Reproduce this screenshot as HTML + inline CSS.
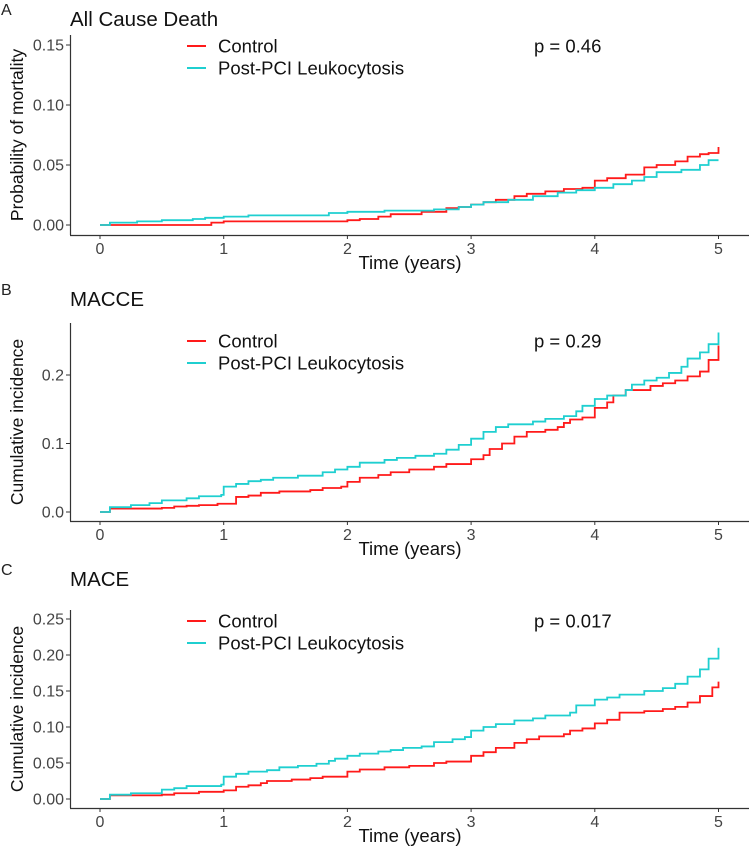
<!DOCTYPE html>
<html><head><meta charset="utf-8"><style>
html,body{margin:0;padding:0;background:#fff;}
svg{display:block;font-family:"Liberation Sans",sans-serif;}
</style></head><body>
<svg id="chart" width="750" height="847" xmlns="http://www.w3.org/2000/svg"></svg>
<script>
const xTicks=[0,1,2,3,4,5];
const panelLabels=["A","B","C"];
const panelTitles=["All Cause Death","MACCE","MACE"];
const yTitles=["Probability of mortality","Cumulative incidence","Cumulative incidence"];
const pValues=["p = 0.46","p = 0.29","p = 0.017"];
const seriesNames=["Control","Post-PCI Leukocytosis"];
const yTicksA=[0,0.05,0.10,0.15];
const yTickLabelsA=["0.00","0.05","0.10","0.15"];
const yTicksB=[0,0.1,0.2];
const yTickLabelsB=["0.0","0.1","0.2"];
const yTicksC=[0,0.05,0.10,0.15,0.20,0.25];
const yTickLabelsC=["0.00","0.05","0.10","0.15","0.20","0.25"];
const ctrlA_t=[0.08,0.9,1.0,2.0,2.1,2.25,2.35,2.6,2.8,2.9,3.0,3.1,3.2,3.35,3.45,3.6,3.75,3.9,4.0,4.1,4.25,4.4,4.5,4.65,4.75,4.85,4.92,5.0];
const ctrlA_v=[0,0.002,0.003,0.004,0.005,0.007,0.009,0.011,0.014,0.015,0.017,0.019,0.021,0.024,0.026,0.028,0.030,0.031,0.037,0.039,0.042,0.048,0.050,0.053,0.057,0.059,0.060,0.065];
const leukA_t=[0,0.08,0.3,0.5,0.75,0.85,1.0,1.2,1.85,2.0,2.3,2.7,2.9,3.0,3.1,3.3,3.5,3.7,3.85,4.0,4.15,4.3,4.4,4.5,4.7,4.85,4.92,5.0];
const leukA_v=[0,0.002,0.003,0.004,0.005,0.006,0.007,0.008,0.010,0.011,0.012,0.013,0.015,0.017,0.019,0.021,0.024,0.027,0.029,0.031,0.034,0.037,0.040,0.044,0.046,0.050,0.054,0.054];
const ctrlB_t=[0.08,0.5,0.6,0.7,0.8,0.95,1.1,1.2,1.3,1.45,1.7,1.8,1.95,2.0,2.1,2.25,2.35,2.5,2.7,2.8,3.0,3.1,3.15,3.25,3.35,3.45,3.6,3.7,3.75,3.8,3.9,4.0,4.1,4.15,4.25,4.45,4.55,4.65,4.75,4.85,4.92,5.0];
const ctrlB_v=[0.005,0.006,0.008,0.009,0.010,0.012,0.022,0.024,0.028,0.030,0.032,0.035,0.037,0.044,0.050,0.054,0.058,0.062,0.066,0.070,0.077,0.083,0.092,0.100,0.110,0.117,0.120,0.124,0.130,0.135,0.138,0.152,0.160,0.170,0.178,0.184,0.188,0.192,0.198,0.205,0.222,0.243];
const leukB_t=[0,0.08,0.25,0.4,0.5,0.7,0.8,0.98,1.0,1.1,1.2,1.3,1.4,1.6,1.8,1.9,2.0,2.1,2.3,2.4,2.55,2.7,2.8,2.9,3.0,3.1,3.2,3.3,3.5,3.6,3.75,3.85,3.9,4.0,4.1,4.25,4.3,4.4,4.5,4.6,4.7,4.75,4.85,4.92,5.0];
const leukB_v=[0,0.007,0.010,0.013,0.017,0.020,0.023,0.025,0.037,0.041,0.045,0.047,0.050,0.053,0.058,0.062,0.066,0.072,0.076,0.079,0.082,0.085,0.091,0.098,0.107,0.117,0.124,0.128,0.132,0.136,0.140,0.147,0.155,0.165,0.170,0.178,0.186,0.192,0.196,0.203,0.212,0.224,0.233,0.245,0.262];
const ctrlC_t=[0.08,0.5,0.6,0.8,1.0,1.1,1.2,1.3,1.35,1.55,1.7,1.8,2.0,2.1,2.3,2.5,2.7,2.8,3.0,3.1,3.2,3.35,3.45,3.55,3.75,3.8,3.9,4.0,4.1,4.2,4.4,4.55,4.65,4.75,4.85,4.95,5.0];
const ctrlC_v=[0.005,0.006,0.008,0.010,0.012,0.017,0.019,0.022,0.025,0.027,0.029,0.031,0.038,0.041,0.044,0.046,0.050,0.052,0.060,0.065,0.071,0.078,0.083,0.087,0.090,0.095,0.098,0.105,0.110,0.120,0.122,0.125,0.128,0.134,0.143,0.155,0.163];
const leukC_t=[0,0.08,0.25,0.5,0.6,0.7,0.98,1.0,1.1,1.2,1.35,1.45,1.6,1.75,1.85,1.9,2.0,2.1,2.25,2.35,2.45,2.6,2.7,2.85,2.95,3.0,3.1,3.2,3.35,3.5,3.6,3.8,3.85,4.0,4.1,4.2,4.4,4.55,4.65,4.75,4.85,4.92,5.0];
const leukC_v=[0,0.006,0.008,0.013,0.015,0.018,0.020,0.031,0.035,0.038,0.040,0.044,0.046,0.049,0.053,0.056,0.060,0.063,0.066,0.068,0.071,0.073,0.079,0.083,0.086,0.095,0.100,0.104,0.109,0.112,0.116,0.120,0.130,0.138,0.141,0.145,0.150,0.154,0.160,0.170,0.180,0.195,0.210];

const NS="http://www.w3.org/2000/svg";
const svg=document.getElementById('chart');
function mk(tag,attrs,parent){const e=document.createElementNS(NS,tag);for(const k in attrs)e.setAttribute(k,attrs[k]);(parent||svg).appendChild(e);return e;}
const RED="#FF1A1A", CYAN="#1FCFD0", INK="#333333";
const panels=[
 {off:0,top:35,y0:225,ymax:0.15,ymaxPx:45,ticks:yTicksA,labels:yTickLabelsA,axisY:235,series:[[ctrlA_t,ctrlA_v],[leukA_t,leukA_v]]},
 {off:280,top:323,y0:512,ymax:0.2,ymaxPx:375,ticks:yTicksB,labels:yTickLabelsB,axisY:521,series:[[ctrlB_t,ctrlB_v],[leukB_t,leukB_v]]},
 {off:560,top:610,y0:799,ymax:0.25,ymaxPx:619,ticks:yTicksC,labels:yTickLabelsC,axisY:808,series:[[ctrlC_t,ctrlC_v],[leukC_t,leukC_v]]}
];
const xScale=t=>100+t*(718.5-100)/5;
panels.forEach((p,i)=>{
 const g=mk('g',{});
 
 
 const yScale=v=>p.y0+(p.ymaxPx-p.y0)*v/p.ymax;
 const lab=mk('text',{x:1,y:p.off+15,'font-size':16,fill:'#222'},g);lab.textContent=panelLabels[i];
 
 const tt=mk('text',{x:70,y:p.off+26,'font-size':20.5,fill:'#111'},g);tt.textContent=panelTitles[i];
 
 const ya=mk('line',{x1:70.5,x2:70.5,y1:p.top,y2:p.axisY,stroke:INK,'stroke-width':1.2},g);
 
 const xa=mk('line',{x1:70,x2:749,y1:p.axisY+0.5,y2:p.axisY+0.5,stroke:INK,'stroke-width':1.2},g);
 
 p.ticks.forEach((v,j)=>{
  const y=yScale(v);
  mk('line',{x1:66,x2:70,y1:y,y2:y,stroke:INK,'stroke-width':1},g);
  const t=mk('text',{x:64,y:y+5.5,'font-size':16,fill:'#444','text-anchor':'end'},g);t.textContent=p.labels[j];
  
 });
 xTicks.forEach(v=>{
  const x=xScale(v);
  mk('line',{x1:x,x2:x,y1:p.axisY,y2:p.axisY+4,stroke:INK,'stroke-width':1},g);
  const t=mk('text',{x:x,y:p.axisY+19,'font-size':16,fill:'#444','text-anchor':'middle'},g);t.textContent=v;
  
 });
 const xt=mk('text',{x:410,y:p.axisY+34,'font-size':18.5,fill:'#111','text-anchor':'middle'},g);xt.textContent="Time (years)";
 
 const cy=(p.top+p.axisY)/2;
 const yt=mk('text',{x:0,y:0,'font-size':17.5,fill:'#111','text-anchor':'middle',transform:`translate(23,${cy}) rotate(-90)`},g);yt.textContent=yTitles[i];
 
 p.series.forEach((s,k)=>{
  const [ts,vs]=s;
  let d=`M${xScale(0)},${yScale(0)}`;
  ts.forEach((t,m)=>{d+=` H${xScale(t)} V${yScale(vs[m])}`;});
  const path=mk('path',{d:d,fill:'none',stroke:k?CYAN:RED,'stroke-width':1.8},g);
  
  
 });
 const ly=[p.off+(i===0?46:61),p.off+(i===0?68:83)];
 seriesNames.forEach((n,k)=>{
  const lg=mk('g',{},g);
  
  mk('line',{x1:187,x2:206,y1:ly[k],y2:ly[k],stroke:k?CYAN:RED,'stroke-width':2},lg);
  const t=mk('text',{x:218,y:ly[k]+6.5,'font-size':18.5,fill:'#111'},lg);t.textContent=n;
 });
 const pv=mk('text',{x:534,y:ly[0]+6.5,'font-size':18.5,fill:'#111'},g);pv.textContent=pValues[i];
 
});
</script>
</body></html>
